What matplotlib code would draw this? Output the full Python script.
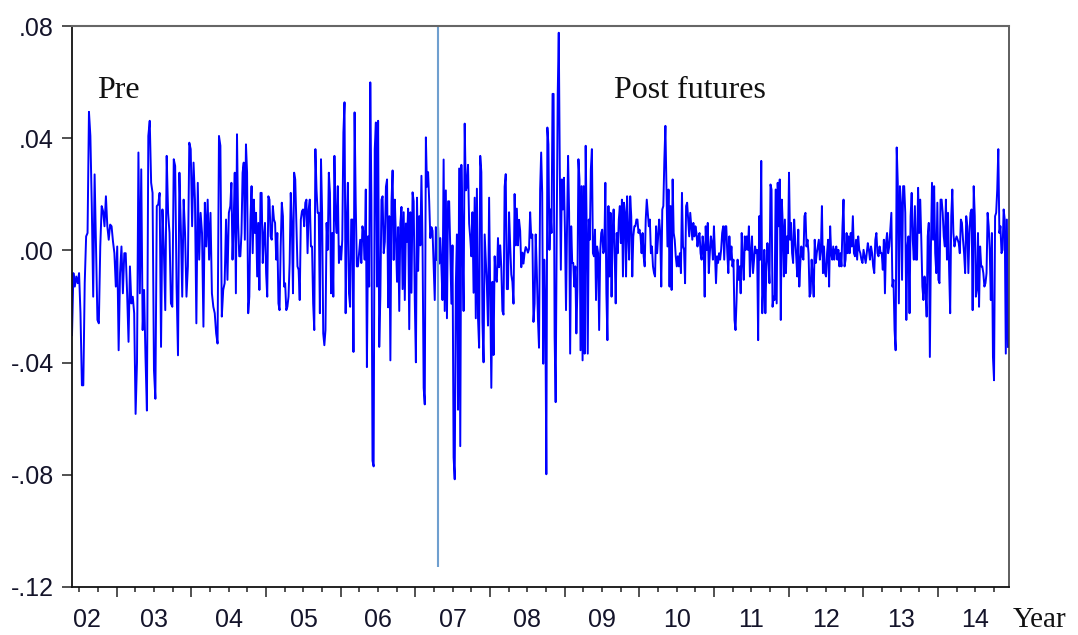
import numpy as np
import matplotlib
matplotlib.use("Agg")
import matplotlib.pyplot as plt

# weekly returns, in units of 0.001, one list per stretch of time
ret_2002_04 = [-30.2, -8.1, -12.9, -9.3, -11.7, -8.1, -22.4, -48.1, -48.1, -11.7, 5.0, 6.2, 49.4,
               40.8, 15.8, -16.5, 27.1, 1.4, -24.8, -26.0, 1.4, 15.8, 14.0, 8.6, 19.3, 8.6, 3.8,
               9.2, 8.6, 3.2, -1.0, -12.9, 1.4, -35.6, -8.1, 1.4, -15.3, -1.0, -1.0, -15.3, -32.6,
               -5.7, -18.9, -16.5, -22.4, -58.3, -39.8, 34.9, -15.3, 28.9, -28.4, -14.1, -38.0,
               -57.1, 40.8, 46.2, 24.1, 20.5, -42.7, -52.9, 15.8, 16.4, 20.5, -34.4, 14.6, 0.2,
               -21.3, 33.7, 13.4, 6.2, -18.9, -20.1, 32.5, 30.1, -12.9, -37.4, 27.7, 8.6, -16.5,
               18.1, 6.2, -16.5, -5.7, 38.4, 36.1, 8.6, 31.3, 18.1, -26.0, 24.1, -3.3, 13.4, 6.2,
               -27.2, 17.0, 1.4, 18.1, -3.3, 13.4, -15.3, -20.1, -22.4, -29.6, -33.2, 40.8, 37.3,
               -23.6, -14.1, -11.7, 11.0, -10.5, 13.4]
ret_2004_06 = [15.8, 24.1, -3.3, 9.8, 27.7, -15.3, 41.4, 9.8, -2.1, -2.1, 6.2, 27.7, 31.3, 3.8,
               37.8, 27.7, -22.4, -16.5, 11.0, 22.9, -1.0, 18.1, 6.2, 13.4, -9.3, 9.8, -14.1, 20.5,
               20.5, -4.5, 5.0, 9.8, -8.1, -16.5, 19.3, 18.1, 5.0, 3.8, 15.8, 11.0, 9.8, -3.3, 6.2,
               -18.9, -21.3, 1.4, 17.0, 12.2, -12.9, -11.7, -21.3, -20.1, -16.5, -4.5, 20.5, 8.6,
               -15.3, 27.7, 25.3, 9.8, -5.7, -6.9, -17.7, 11.0, 14.0, 14.6, 8.6, 17.0, 18.1, -1.0,
               14.6, 18.1, 1.4, 1.4, -18.9, -28.4, 36.1, 21.7, 13.4, 13.4, -22.4, 32.5, 13.4,
               -29.6, -33.8, -28.4, 9.8, 0.2, 27.7, 20.5, -15.3, 6.2, -16.5, 33.7, 12.2, 6.2, 22.9,
               -4.5, 1.4, -3.3, 3.8, 42.0, 52.8, -22.4, 9.8, 24.1, -15.3, -20.1, 11.0, 11.0, -36.2,
               49.2, 17.0, -5.7, -5.7, -1.0, 3.8, -4.5, 8.6, 6.2, -3.3, 21.7, -41.6, 5.0, -12.9,
               59.9, 18.1, -75.0, -77.0, 36.1, 45.6, -12.9, 46.2, -34.4, -16.5, 18.1, 19.3, -1.0]
ret_2006_08 = [3.1, 22.7, 25.3, -20.3, 12.2, -39.2, 17.5, 28.5, -3.4, 18.1, 4.4, -11.2, 8.3, -21.6,
               9.6, 15.5, -13.8, 13.6, -17.7, 9.6, 3.1, 14.9, -28.1, 13.6, -15.1, 20.7, 17.5, -17.7,
               -39.9, 18.8, -7.3, 12.2, 1.8, 26.6, 1.8, -49.0, -54.9, 40.3, 22.7, 27.9, 17.5, 4.4,
               8.3, 7.0, -6.0, -17.7, 8.3, -3.4, 8.3, -4.7, 4.4, -6.0, -17.7, 32.4, -21.6, 21.4,
               -24.2, 17.5, 17.5, 0.5, -19.0, 1.8, -73.8, -81.6, -12.5, 5.7, -56.8, 29.2, -69.8,
               30.5, 5.7, -21.6, 45.2, 21.4, 22.7, 30.5, 9.6, 4.4, -2.1, 13.6, -15.1, 18.8, -24.2,
               22.0, -24.2, -34.7, 33.7, 27.9, -25.5, -39.9, 5.7, -3.4, -12.5, -26.8, 18.8, -15.1,
               -49.0, -11.2, -37.3, -2.1, -9.9, -11.2, 4.4, -6.0, 1.8, -6.0, -21.6, -22.9, 22.7,
               27.2, -13.8, -13.8, 13.6, 1.8, -8.6, -11.2, -19.0, 20.1, 1.8, 14.9, 1.8, 10.9, 7.0,
               -6.0, -0.8, -4.7, -0.8, 1.2, 0.5, -0.8, 0.5, 13.6, 4.4, 5.7, -25.5, -19.0, 5.7, -7.3,
               -24.2, -34.7]
ret_2008_10 = [21.7, 34.9, 20.5, -40.4, -3.3, -20.1, -79.8, 43.8, 37.8, 0.2, 14.6, 6.2, 55.8, 55.8,
               -30.8, -54.1, 5.6, 55.8, 77.6, 28.9, -6.9, 25.3, 14.6, 25.9, 6.2, -21.3, 8.6, 33.7,
               13.4, -36.8, 8.6, -4.5, -4.5, -12.9, -5.7, -29.6, -14.1, 32.5, 25.3, -35.6, 22.9,
               -39.2, 22.9, -36.8, 37.3, 6.2, -36.8, 11.0, 3.8, 28.9, 36.1, -1.0, -2.1, 7.4, -17.7,
               1.4, -1.0, -28.4, -1.0, 6.2, 7.4, -1.0, 0.2, 24.1, -15.3, -32.0, 15.8, -9.3, 13.4,
               -16.5, 6.2, 14.6, -1.0, -18.9, 6.2, -1.0, 11.0, 15.8, 2.6, 18.1, -9.3, 17.0, 13.4,
               -9.3, 19.3, 6.2, -3.3, 19.3, 12.2, -9.3, 5.0, 8.6, 8.6, 11.0, 11.0, 6.2, 7.4, 5.0,
               -1.0, 6.2, -2.1, -5.7, 11.0, 18.1, 13.4, 8.6, 11.0, -1.0, 1.4, -5.7, -8.1, -9.3, 8.6,
               -1.0, 5.0, 11.0, 6.2, -12.9, 14.6, 15.8, 32.5, 44.4, 21.7, 1.4, 21.7, -12.9, 15.8,
               -14.1, 25.3, 6.2, 3.8, -2.1, -5.7, -2.1, -5.7, -1.0, -8.1, 20.5, 1.4, 0.2, -11.7,
               15.8, 17.0, 11.0, 5.0, 13.4, 8.6, 3.8, 9.8, 5.0]
ret_2010_12 = [8.6, 6.2, 1.4, 5.0, 6.2, -1.0, -3.3, 5.0, 1.4, -16.5, 8.6, 0.2, 9.8, -8.1, -1.0, 5.0,
               2.6, -3.3, 8.6, -1.0, -11.7, -2.1, -4.5, -1.0, -3.3, 0.2, 6.2, 8.6, -3.3, 8.6, 8.6,
               -1.0, -8.1, 5.0, -3.3, 1.4, -5.7, -3.3, -24.8, -28.4, -17.7, -3.3, -10.5, -5.7, -15.3,
               6.2, -3.3, -10.5, 5.0, 0.2, 5.0, 0.2, 8.6, -9.3, -1.0, 5.0, -8.1, -3.3, 1.4, -1.0,
               0.2, -32.0, 12.2, -3.3, 31.9, -22.4, -12.9, 0.2, -22.4, -5.7, 2.6, -3.3, -11.7, 23.5,
               21.7, -20.1, -16.5, -17.7, 21.7, -18.9, 24.1, 8.6, 25.3, -24.8, 18.1, 8.6, -9.3,
               11.0, -8.1, 5.0, -1.0, 27.7, 3.8, 9.8, -1.0, -4.5, 11.0, 3.8, -2.1, -9.3, 7.4, -12.9,
               -4.5, 1.4, -2.1, -3.3, 12.2, 13.4, 1.4, 3.8, -1.0, -16.5, -15.3, -3.3, -9.3, -16.5,
               3.8, -4.5, -1.0, 1.4, 3.8, -3.3, 0.2, 15.8, -8.1, 1.4, -8.1, -9.3, -1.0, 3.8, -12.9,
               8.6, -1.0, -3.3, 1.4, -3.3, 0.2, 1.4, -3.3, 0.2, -5.7, -1.0, -5.7, 8.6, 18.1, -5.7,
               -3.3, 6.2, -1.0, 5.0, -1.0]
ret_2012_14 = [6.2, 1.4, 12.2, -1.0, -2.1, 3.8, -3.3, 5.0, 0.2, -1.0, -3.3, -4.5, 0.2, -2.1, -4.5,
               -1.0, 2.6, 0.2, -3.3, 1.4, -1.0, -5.7, -8.1, 3.8, 6.2, -1.0, -2.1, 1.4, -1.0, -1.0,
               -6.9, 3.8, -15.3, 2.6, 6.2, -1.0, 1.4, 7.4, 13.4, -12.9, -10.5, -28.4, -35.6, 36.7,
               24.1, -18.9, 22.9, 17.0, -10.5, 22.9, 22.9, 13.4, -24.8, 1.4, 5.0, -22.4, 12.2, 20.5,
               3.8, -3.3, 15.8, -3.3, -3.3, 22.3, 6.2, 18.1, 3.8, -12.9, -17.7, -9.3, -14.1, -23.6,
               5.0, 9.8, -38.0, 1.4, 24.1, 3.8, 22.9, -1.0, -8.1, 17.0, -10.5, -11.7, 18.1, 18.1,
               13.4, 5.0, 1.4, 18.1, -3.3, 13.4, -6.9, -22.4, 12.2, 21.7, 6.2, 1.4, 3.8, 5.0, 3.8,
               2.6, -1.0, 11.0, 9.8, 3.8, -1.0, -8.1, 12.2, 8.6, -8.1, 6.2, 13.4, 14.6, -21.3, 22.9,
               12.2, -16.5, -14.1, 6.2, -20.1, 1.4, -5.7, -5.7, -8.1, -12.9, -11.7, -8.1, 13.4, 8.6,
               0.2, -17.7, 6.2, -38.0, -46.3, 12.2, 13.4, 21.7, 36.1, 6.2, 8.6, -1.0, 0.2, 14.6,
               11.0, -36.8, 11.0, -34.4]

segments = [ret_2002_04, ret_2004_06, ret_2006_08, ret_2008_10, ret_2010_12, ret_2012_14]
# decimal-year boundaries of the stretches above
period_edges = [2002.40, 2004.52, 2006.59, 2008.67, 2010.75, 2012.83, 2014.95]

futures_start = 2007.30   # introduction of futures trading
year_labels = ['02', '03', '04', '05', '06', '07', '08', '09', '10', '11', '12', '13', '14']
ytick_vals = [0.08, 0.04, 0.00, -0.04, -0.08, -0.12]
ytick_labels = ['.08', '.04', '.00', '-.04', '-.08', '-.12']

t_parts, r_parts = [], []
for i, seg in enumerate(segments):
    t_parts.append(np.linspace(period_edges[i], period_edges[i + 1], len(seg), endpoint=False))
    r_parts.append(np.array(seg) / 1000.0)
t = np.concatenate(t_parts)
r = np.concatenate(r_parts)

fig = plt.figure(figsize=(10.78, 6.35), dpi=100)
ax = fig.add_axes([72 / 1078, 1 - 587 / 635, (1009 - 72) / 1078, (587 - 26) / 635])

ax.plot(t, r, color='#0000ff', lw=1.4)
ax.vlines(futures_start, -0.113, 0.08, color='#6f9fcf', lw=1.5)

ax.set_xlim(period_edges[0], period_edges[-1])
ax.set_ylim(-0.12, 0.08)

ax.set_yticks(ytick_vals)
ax.set_yticklabels(ytick_labels, family='Liberation Sans', fontsize=18, color='#14142a')
ax.tick_params(axis='y', direction='out', length=7, width=1.1, pad=6, color='#222222')

years = np.arange(2003, 2015)
quarters = [q for q in np.arange(2002.5, 2015.0, 0.25) if q % 1 != 0 and q < period_edges[-1]]
ax.set_xticks(years)
ax.set_xticklabels([])
ax.set_xticks(quarters, minor=True)
ax.tick_params(axis='x', which='major', direction='out', length=7, width=1.1, color='#222222')
ax.tick_params(axis='x', which='minor', direction='out', length=3.5, width=1.1, color='#222222')

label_pos = [2002.6] + [y + 0.5 for y in years]
for x, lbl in zip(label_pos, year_labels):
    ax.annotate(lbl, (x, 0), xycoords=('data', 'axes fraction'), xytext=(0, -29),
                textcoords='offset points', ha='center', va='baseline',
                family='Liberation Sans', fontsize=18, color='#14142a')

for side in ['left', 'bottom']:
    ax.spines[side].set_color('#111111')
    ax.spines[side].set_linewidth(1.3)
ax.spines['top'].set_color('#666666')
ax.spines['top'].set_linewidth(1.5)
ax.spines['right'].set_color('#333333')
ax.spines['right'].set_linewidth(1.1)

ax.text(2002.73, 0.0543, 'Pre', family='Liberation Serif', fontsize=23, va='baseline', color='#111111')
ax.text(2009.66, 0.0543, 'Post futures', family='Liberation Serif', fontsize=23, va='baseline',
        color='#111111')
fig.text(1013 / 1078, 1 - 627 / 635, 'Year', family='Liberation Serif', fontsize=21, va='baseline',
         color='#111111')

fig.savefig('out.png', dpi=100)
